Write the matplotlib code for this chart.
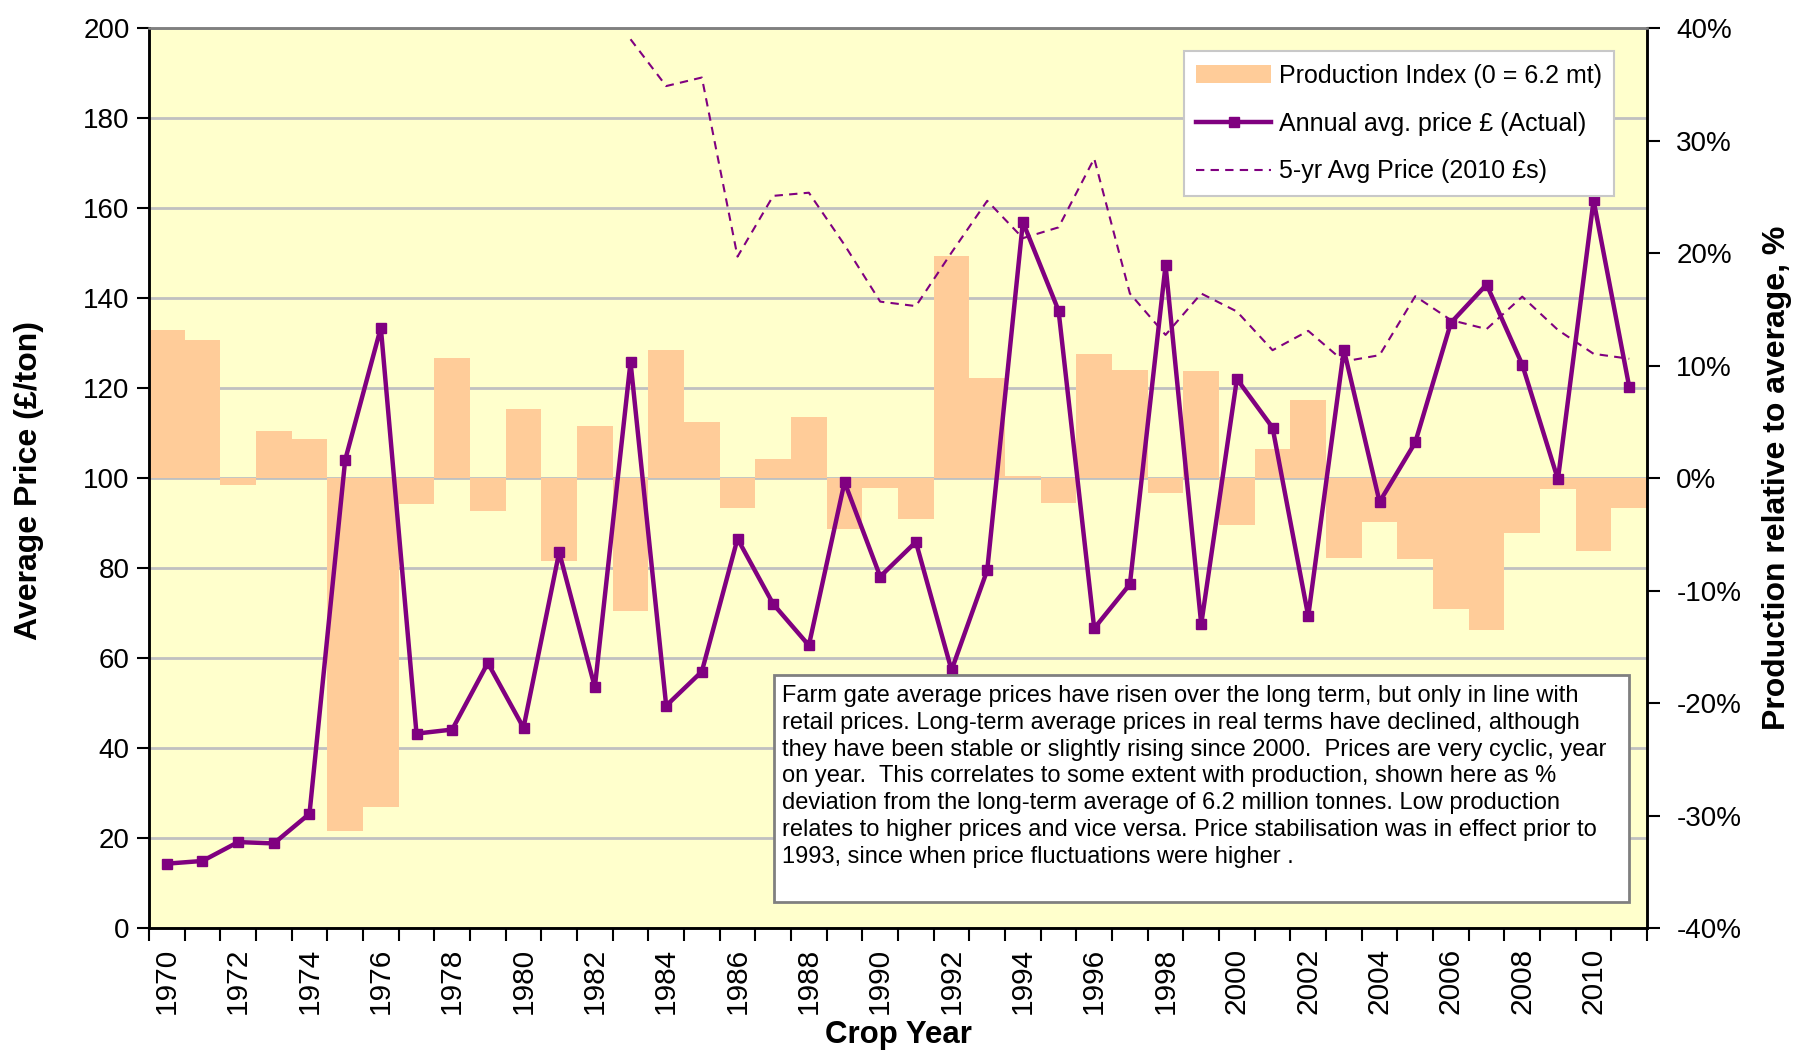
import numpy as np
import matplotlib.pyplot as plt
from matplotlib.ticker import MultipleLocator
from matplotlib.patches import Patch, Rectangle
from matplotlib.lines import Line2D

plt.rcParams['font.family'] = ['Liberation Sans Narrow', 'Liberation Sans', 'DejaVu Sans']

years = list(range(1970, 2012))

# annual average price, £/ton
price = [14.3, 14.9, 19.1, 18.8, 25.4, 104.0, 133.4, 43.2, 44.1, 58.9,
         44.5, 83.5, 53.5, 125.8, 49.4, 57.0, 86.5, 72.0, 62.8, 99.1,
         78.1, 85.8, 57.3, 79.5, 156.9, 137.2, 66.6, 76.4, 147.3, 67.5,
         122.0, 111.2, 69.3, 128.5, 94.7, 107.9, 134.5, 143.0, 125.2, 99.7,
         161.7, 120.2]

# production relative to long-term average (6.2 mt), %
prod_pct = [13.2, 12.3, -0.6, 4.2, 3.5, -31.4, -29.2, -2.3, 10.7, -2.9,
            6.1, -7.4, 4.6, -11.8, 11.4, 5.0, -2.7, 1.7, 5.4, -4.5,
            -0.9, -3.6, 19.7, 8.9, 0.2, -2.2, 11.0, 9.6, -1.3, 9.5,
            -4.2, 2.6, 6.9, -7.1, -3.9, -7.2, -11.6, -13.5, -4.9, -1.0,
            -6.5, -2.7]

# 5-year average price in 2010 £
avg_years = list(range(1983, 2012))
avg5 = [197.5, 187.1, 189.0, 149.2, 162.7, 163.4, 151.8, 139.2, 138.2, 150.1,
        161.6, 153.3, 155.7, 171.0, 141.0, 131.8, 141.0, 137.0, 128.4, 132.7,
        125.9, 127.3, 140.4, 135.1, 133.1, 140.3, 132.9, 127.6, 126.5]

note = ("Farm gate average prices have risen over the long term, but only in line with\n"
        "retail prices. Long-term average prices in real terms have declined, although\n"
        "they have been stable or slightly rising since 2000.  Prices are very cyclic, year\n"
        "on year.  This correlates to some extent with production, shown here as %\n"
        "deviation from the long-term average of 6.2 million tonnes. Low production\n"
        "relates to higher prices and vice versa. Price stabilisation was in effect prior to\n"
        "1993, since when price fluctuations were higher .")

purple = '#800080'
peach = '#FFCC99'

fig = plt.figure(figsize=(17.95, 10.53), dpi=100)
ax = fig.add_axes([0.083, 0.1187, 0.8346, 0.8547])
ax2 = ax.twinx()
ax.set_zorder(2)
ax2.set_zorder(1)
ax.patch.set_visible(False)
ax2.patch.set_visible(True)
ax2.patch.set_facecolor('#FFFFCC')

# production bars on the right-hand axis
ax2.bar(years, prod_pct, width=1.0, color=peach, zorder=2)
ax2.set_ylim(-40, 40)
ax2.set_yticks(range(-40, 41, 10))
ax2.set_yticklabels([f'{v}%' for v in range(-40, 41, 10)])
ax2.yaxis.set_minor_locator(MultipleLocator(8))
ax2.yaxis.remove_overlapping_locs = False
ax2.set_axisbelow(True)
ax2.grid(which='minor', axis='y', color='#C0C0C0', lw=2)
ax2.tick_params(axis='y', which='minor', length=0)
ax2.tick_params(axis='y', which='major', labelsize=20, length=9, width=1.5, pad=12)

# prices on the left-hand axis
ax.plot(years, price, color=purple, lw=3.2, marker='s', ms=7, zorder=3)
ax.plot(avg_years, avg5, color=purple, lw=1.5, ls=(0, (4, 3)), zorder=3)
ax.set_ylim(0, 200)
ax.set_yticks(range(0, 201, 20))
ax.tick_params(axis='y', labelsize=20, length=9, width=1.5, pad=5)

ax.set_xlim(1969.5, 2011.5)
ax.set_xticks(range(1970, 2011, 2))
ax.set_xticklabels([str(y) for y in range(1970, 2011, 2)], rotation=90)
ax.set_xticks(np.arange(1969.5, 2012, 1), minor=True)
ax.tick_params(axis='x', which='major', labelsize=21.5, length=0, pad=14)
ax.tick_params(axis='x', which='minor', length=9, width=1.5)

for a in (ax, ax2):
    a.spines['top'].set_color('#808080')
    for s in ('top', 'left', 'right', 'bottom'):
        a.spines[s].set_linewidth(1.8)

handles = [Patch(facecolor=peach, edgecolor='none'),
           Line2D([], [], color=purple, lw=3.2, marker='s', ms=7),
           Line2D([], [], color=purple, lw=1.5, ls=(0, (4, 3)))]
labels = ['Production Index (0 = 6.2 mt)', 'Annual avg. price £ (Actual)',
          '5-yr Avg Price (2010 £s)']
leg = ax.legend(handles, labels, loc='upper right', bbox_to_anchor=(0.978, 0.974),
                fontsize=18, frameon=True, fancybox=False, framealpha=1,
                edgecolor='#C8C8C8', handlelength=3.0, labelspacing=0.95,
                borderpad=0.5, handletextpad=0.3, borderaxespad=0)
leg.get_frame().set_linewidth(1.5)

ax.add_patch(Rectangle((0.417, 0.029), 0.571, 0.252, transform=ax.transAxes,
                       facecolor='white', edgecolor='#808080', lw=2, zorder=5))
ax.text(0.4225, 0.270, note, transform=ax.transAxes, va='top', ha='left',
        fontsize=17, linespacing=1.28, zorder=6)

fig.text(0.016, 0.544, 'Average Price (£/ton)', rotation=90, ha='center', va='center',
         fontsize=23, fontweight='bold', family='Liberation Sans')
fig.text(0.990, 0.546, 'Production relative to average, %', rotation=90, ha='center',
         va='center', fontsize=23, fontweight='bold', family='Liberation Sans')
fig.text(0.5006, 0.017, 'Crop Year', ha='center', va='center',
         fontsize=22.5, fontweight='bold', family='Liberation Sans')

fig.savefig('out.png', dpi=100)
